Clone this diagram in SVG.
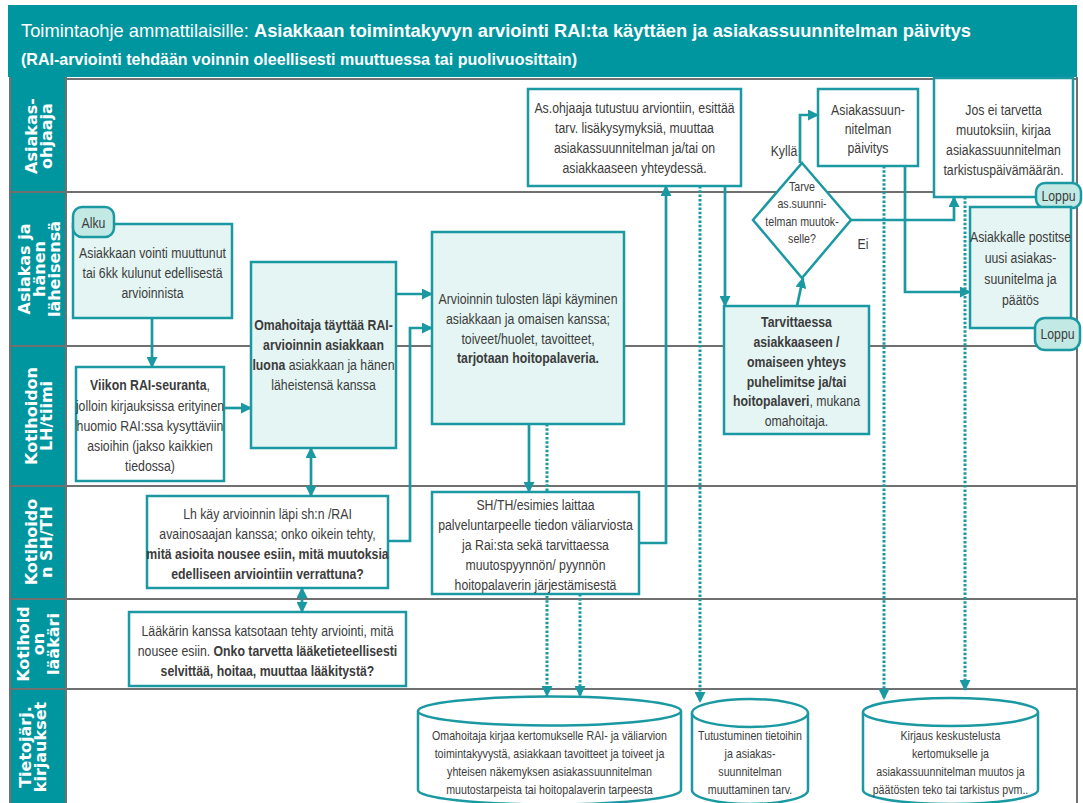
<svg xmlns="http://www.w3.org/2000/svg" width="1083" height="803" viewBox="0 0 1083 803">
<defs>
<style>
.lane{fill:#00969F}
.sep{stroke:#707070;stroke-width:2;fill:none}
.hdr{font-family:"DejaVu Sans",sans-serif;font-weight:bold;font-size:16px;fill:#fff;text-anchor:middle}
.n{fill:#fff;stroke:#1A99A3;stroke-width:2.5}
.nf{fill:#E4F5F3;stroke:#1A99A3;stroke-width:2.5}
.term{fill:#C3E9E5;stroke:#1A99A3;stroke-width:2.5}
.t{font-family:"Liberation Sans Narrow","Arial Narrow","Liberation Sans",sans-serif;font-size:15px;fill:#3c3c3c;text-anchor:middle}
.s13{font-size:13px}
.b{font-weight:bold}
.c{fill:none;stroke:#1A99A3;stroke-width:2.7}
.d{fill:none;stroke:#1A99A3;stroke-width:3;stroke-dasharray:2.5 1.8}
.ttl{font-family:"Liberation Sans Narrow","Arial Narrow","Liberation Sans",sans-serif;font-weight:bold;fill:#fff}
</style>
<marker id="ah" markerUnits="userSpaceOnUse" markerWidth="11" markerHeight="11" refX="10" refY="5.5" orient="auto-start-reverse">
<path d="M0,0 L11,5.5 L0,11 z" fill="#1A99A3"/>
</marker>
</defs>

<g id="title">
<rect x="8" y="5" width="1069" height="72" fill="#00969F"/>
<text class="ttl" x="21" y="37" font-size="19" textLength="950" lengthAdjust="spacingAndGlyphs"><tspan font-weight="normal">Toimintaohje ammattilaisille: </tspan>Asiakkaan toimintakyvyn arviointi RAI:ta käyttäen ja asiakassuunnitelman päivitys</text>
<text class="ttl" x="21" y="65" font-size="17" textLength="556" lengthAdjust="spacingAndGlyphs">(RAI-arviointi tehdään voinnin oleellisesti muuttuessa tai puolivuosittain)</text>
</g>

<g id="lanes">
<rect x="10" y="77" width="56" height="726" class="lane"/>
<path class="sep" d="M66,79 H1077 M10,192 H1077 M10,346 H1077 M10,486 H1077 M10,599 H1077 M10,689 H1077 M10,77 V803 M66,77 V803 M1077,77 V803"/>
<text class="hdr" transform="translate(0,136) rotate(-90)"><tspan x="0" y="37">Asiakas-</tspan><tspan x="0" y="52">ohjaaja</tspan></text>
<text class="hdr" transform="translate(0,269) rotate(-90)"><tspan x="0" y="30">Asiakas ja</tspan><tspan x="0" y="45">hänen</tspan><tspan x="0" y="60">läheisensä</tspan></text>
<text class="hdr" transform="translate(0,416) rotate(-90)"><tspan x="0" y="37">Kotihoidon</tspan><tspan x="0" y="52">LH/tiimi</tspan></text>
<text class="hdr" transform="translate(0,542) rotate(-90)"><tspan x="0" y="37">Kotihoido</tspan><tspan x="0" y="52">n SH/TH</tspan></text>
<text class="hdr" transform="translate(0,644) rotate(-90)"><tspan x="0" y="29">Kotihoid</tspan><tspan x="0" y="44">on</tspan><tspan x="0" y="59">lääkäri</tspan></text>
<text class="hdr" transform="translate(0,747) rotate(-90)"><tspan x="0" y="31">Tietojärj.</tspan><tspan x="0" y="46">kirjaukset</tspan></text>
</g>

<g id="connectors">
<path class="c" d="M152,318 V367" marker-end="url(#ah)"/>
<path class="c" d="M224,408 H251" marker-end="url(#ah)"/>
<path class="c" d="M311,448 V496" marker-start="url(#ah)" marker-end="url(#ah)"/>
<path class="c" d="M302,588 V612" marker-start="url(#ah)" marker-end="url(#ah)"/>
<path class="c" d="M396,294 H432" marker-end="url(#ah)"/>
<path class="c" d="M388,541 H410 V328 H432" marker-end="url(#ah)"/>
<path class="c" d="M529,424 V492" marker-end="url(#ah)"/>
<path class="c" d="M639,543 H666 V186" marker-end="url(#ah)"/>
<path class="c" d="M725,186 V306" marker-end="url(#ah)"/>
<path class="c" d="M797,306 L803,278" marker-end="url(#ah)"/>
<path class="c" d="M800,163 V115 H818" marker-end="url(#ah)"/>
<path class="c" d="M851,220 H954 V197" marker-end="url(#ah)"/>
<path class="c" d="M905,166 V292 H970" marker-end="url(#ah)"/>
<path class="d" d="M547,424 V696" marker-end="url(#ah)"/>
<path class="d" d="M580,594 V696" marker-end="url(#ah)"/>
<path class="d" d="M700,186 V702" marker-end="url(#ah)"/>
<path class="d" d="M884,166 V699" marker-end="url(#ah)"/>
<path class="d" d="M965,197 V690" marker-end="url(#ah)"/>
<text class="t" transform="matrix(0.82,0,0,1,141.12,0)" x="784" y="156">Kyllä</text>
<text class="t" transform="matrix(0.82,0,0,1,155.34,0)" x="863" y="249">Ei</text>
</g>

<g id="boxA">
<rect x="73" y="224" width="159" height="94" class="nf"/>
<text class="t" transform="matrix(0.82,0,0,1,27.45,0)"><tspan x="152.5" y="258">Asiakkaan vointi muuttunut</tspan><tspan x="152.5" y="278">tai 6kk kulunut edellisestä</tspan><tspan x="152.5" y="298">arvioinnista</tspan></text>
</g>
<g id="alku">
<rect x="73" y="207" width="41" height="30" rx="9" class="term"/>
<text class="t" transform="matrix(0.82,0,0,1,16.83,0)" x="93.5" y="228">Alku</text>
</g>
<g id="boxB">
<rect x="76" y="367" width="148" height="114" class="n"/>
<text class="t" transform="matrix(0.82,0,0,1,27,0)"><tspan x="150" y="390"><tspan class="b">Viikon RAI-seuranta</tspan>,</tspan><tspan x="150" y="411">jolloin kirjauksissa erityinen</tspan><tspan x="150" y="431">huomio RAI:ssa kysyttäviin</tspan><tspan x="150" y="451">asioihin (jakso kaikkien</tspan><tspan x="150" y="471">tiedossa)</tspan></text>
</g>
<g id="boxC">
<rect x="251" y="262" width="145" height="186" class="nf"/>
<text class="t" transform="matrix(0.82,0,0,1,58.23,0)"><tspan x="323.5" y="330" class="b">Omahoitaja täyttää RAI-</tspan><tspan x="323.5" y="350" class="b">arvioinnin asiakkaan</tspan><tspan x="323.5" y="370"><tspan class="b">luona</tspan> asiakkaan ja hänen</tspan><tspan x="323.5" y="390">läheistensä kanssa</tspan></text>
</g>
<g id="boxD">
<rect x="432" y="232" width="192" height="192" class="nf"/>
<text class="t" transform="matrix(0.82,0,0,1,95.04,0)"><tspan x="528" y="304">Arvioinnin tulosten läpi käyminen</tspan><tspan x="528" y="324">asiakkaan ja omaisen kanssa;</tspan><tspan x="528" y="344">toiveet/huolet, tavoitteet,</tspan><tspan x="528" y="363" class="b">tarjotaan hoitopalaveria.</tspan></text>
</g>
<g id="boxE">
<rect x="147" y="496" width="241" height="92" class="n"/>
<text class="t" transform="matrix(0.82,0,0,1,48.15,0)"><tspan x="267.5" y="519">Lh käy arvioinnin läpi sh:n /RAI</tspan><tspan x="267.5" y="539">avainosaajan kanssa; onko oikein tehty,</tspan><tspan x="267.5" y="559" class="b">mitä asioita nousee esiin, mitä muutoksia</tspan><tspan x="267.5" y="579" class="b">edelliseen arviointiin verrattuna?</tspan></text>
</g>
<g id="boxF">
<rect x="129" y="612" width="277" height="74" class="n"/>
<text class="t" transform="matrix(0.82,0,0,1,48.15,0)"><tspan x="267.5" y="636">Lääkärin kanssa katsotaan tehty arviointi, mitä</tspan><tspan x="267.5" y="656">nousee esiin. <tspan class="b">Onko tarvetta lääketieteellisesti</tspan></tspan><tspan x="267.5" y="676" class="b">selvittää, hoitaa, muuttaa lääkitystä?</tspan></text>
</g>
<g id="boxG">
<rect x="432" y="492" width="207" height="102" class="n"/>
<text class="t" transform="matrix(0.82,0,0,1,96.39,0)"><tspan x="535.5" y="510">SH/TH/esimies laittaa</tspan><tspan x="535.5" y="530">palveluntarpeelle tiedon väliarviosta</tspan><tspan x="535.5" y="550">ja Rai:sta sekä tarvittaessa</tspan><tspan x="535.5" y="570">muutospyynnön/ pyynnön</tspan><tspan x="535.5" y="590">hoitopalaverin järjestämisestä</tspan></text>
</g>
<g id="boxH">
<rect x="528" y="89" width="213" height="97" class="n"/>
<text class="t" transform="matrix(0.82,0,0,1,114.21,0)"><tspan x="634.5" y="113">As.ohjaaja tutustuu arviontiin, esittää</tspan><tspan x="634.5" y="133">tarv. lisäkysymyksiä, muuttaa</tspan><tspan x="634.5" y="153">asiakassuunnitelman ja/tai on</tspan><tspan x="634.5" y="173">asiakkaaseen yhteydessä.</tspan></text>
</g>
<g id="boxI">
<rect x="724" y="306" width="145" height="128" class="nf"/>
<text class="t" transform="matrix(0.82,0,0,1,143.37,0)"><tspan x="796.5" y="327" class="b">Tarvittaessa</tspan><tspan x="796.5" y="347" class="b">asiakkaaseen /</tspan><tspan x="796.5" y="367" class="b">omaiseen yhteys</tspan><tspan x="796.5" y="387" class="b">puhelimitse ja/tai</tspan><tspan x="796.5" y="406"><tspan class="b">hoitopalaveri</tspan>, mukana</tspan><tspan x="796.5" y="426">omahoitaja.</tspan></text>
</g>
<g id="decision">
<polygon points="802,163 851,220 802,278 753,220" class="n"/>
<text class="t s13" transform="matrix(0.82,0,0,1,144.36,0)"><tspan x="802" y="191">Tarve</tspan><tspan x="802" y="208">as.suunni-</tspan><tspan x="802" y="226">telman muutok-</tspan><tspan x="802" y="243">selle?</tspan></text>
</g>
<g id="boxJ">
<rect x="818" y="89" width="100" height="77" class="n"/>
<text class="t" transform="matrix(0.82,0,0,1,156.24,0)"><tspan x="868" y="115">Asiakassuun-</tspan><tspan x="868" y="134">nitelman</tspan><tspan x="868" y="153">päivitys</tspan></text>
</g>
<g id="boxK">
<rect x="934" y="78" width="139" height="119" class="n"/>
<text class="t" transform="matrix(0.82,0,0,1,180.63,0)"><tspan x="1003.5" y="115">Jos ei tarvetta</tspan><tspan x="1003.5" y="135">muutoksiin, kirjaa</tspan><tspan x="1003.5" y="155">asiakassuunnitelman</tspan><tspan x="1003.5" y="175">tarkistuspäivämäärän.</tspan></text>
</g>
<g id="loppu1">
<rect x="1036" y="183" width="45" height="25" rx="9" class="term"/>
<text class="t" transform="matrix(0.82,0,0,1,190.53,0)" x="1058.5" y="201">Loppu</text>
</g>
<g id="boxL">
<rect x="970" y="207" width="101" height="121" class="nf"/>
<text class="t" transform="matrix(0.82,0,0,1,183.69,0)"><tspan x="1020.5" y="242">Asiakkalle postitse</tspan><tspan x="1020.5" y="263">uusi asiakas-</tspan><tspan x="1020.5" y="284">suunitelma ja</tspan><tspan x="1020.5" y="305">päätös</tspan></text>
</g>
<g id="loppu2">
<rect x="1035" y="318" width="45" height="32" rx="10" class="term"/>
<text class="t" transform="matrix(0.82,0,0,1,190.35,0)" x="1057.5" y="339">Loppu</text>
</g>
<g id="cyl1">
<path d="M418,711 V790 A131.5,14.5 0 0 0 681,790 V711" class="n"/>
<ellipse cx="549.5" cy="711" rx="131.5" ry="14.5" class="n"/>
<text class="t s13" transform="matrix(0.82,0,0,1,98.91,0)"><tspan x="549.5" y="740">Omahoitaja kirjaa kertomukselle RAI- ja väliarvion</tspan><tspan x="549.5" y="758">toimintakyvystä, asiakkaan tavoitteet ja toiveet ja</tspan><tspan x="549.5" y="776">yhteisen näkemyksen asiakassuunnitelman</tspan><tspan x="549.5" y="794">muutostarpeista tai hoitopalaverin tarpeesta</tspan></text>
</g>
<g id="cyl2">
<path d="M692,713 V790 A58,14 0 0 0 808,790 V713" class="n"/>
<ellipse cx="750" cy="713" rx="58" ry="14" class="n"/>
<text class="t s13" transform="matrix(0.82,0,0,1,135,0)"><tspan x="750" y="740">Tutustuminen tietoihin</tspan><tspan x="750" y="758">ja asiakas-</tspan><tspan x="750" y="776">suunnitelman</tspan><tspan x="750" y="794">muuttaminen tarv.</tspan></text>
</g>
<g id="cyl3">
<path d="M863,712 V790 A87.5,14 0 0 0 1038,790 V712" class="n"/>
<ellipse cx="950.5" cy="712" rx="87.5" ry="14" class="n"/>
<text class="t s13" transform="matrix(0.82,0,0,1,171.09,0)"><tspan x="950.5" y="740">Kirjaus keskustelusta</tspan><tspan x="950.5" y="758">kertomukselle ja</tspan><tspan x="950.5" y="776">asiakassuunnitelman muutos ja</tspan><tspan x="950.5" y="794">päätösten teko tai tarkistus pvm..</tspan></text>
</g>
</svg>
